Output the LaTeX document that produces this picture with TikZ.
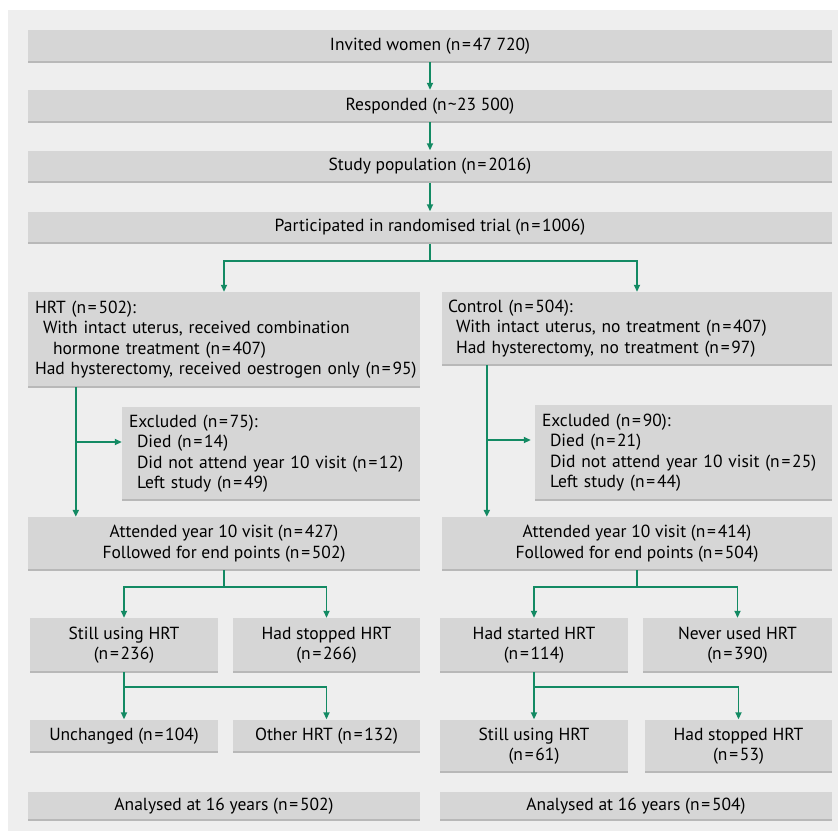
\documentclass[tikz,border=0pt]{standalone}
\usepackage{fontspec}
\setmainfont{PT Sans}
\usetikzlibrary{arrows.meta,calc}
\definecolor{panel}{HTML}{EEEEEE}
\definecolor{boxfill}{HTML}{D6D6D6}
\definecolor{boxedge}{HTML}{B8B8B8}
\definecolor{arrgreen}{HTML}{138A63}
\newcommand{\nn}[1]{(n\kern1.8pt=\kern1.8pt#1)}
\tikzset{
  box/.style={fill=boxfill, inner sep=0pt, inner xsep=7pt, font=\fontsize{17.5}{20.5}\selectfont,
    path picture={\draw[boxedge, line width=2.5pt] (path picture bounding box.south west) -- (path picture bounding box.south east);}},
  cbox/.style={box, align=center},
  lbox/.style={box, align=left},
  conn/.style={draw=arrgreen, line width=1.8pt},
  arr/.style={conn, -{Triangle[width=6pt,length=7pt]}},
}
\begin{document}
\begin{tikzpicture}[x=1pt,y=-1pt]
\useasboundingbox (0,0) rectangle (838,831);
\fill[white] (0,0) rectangle (838,831);
\fill[panel] (8,10) rectangle (838,831);

% top chain
\node[cbox, minimum width=804, minimum height=32] (inv) at (430,46) {Invited women \nn{47 720}};
\node[cbox, minimum width=804, minimum height=32] (resp) at (430,106) {Responded (n\kern1pt\textasciitilde\kern0.5pt23 500)};
\node[cbox, minimum width=804, minimum height=32] (study) at (430,166.5) {Study population \nn{2016}};
\node[cbox, minimum width=804, minimum height=32] (part) at (430,227.5) {Participated in randomised trial \nn{1006}};

% arms
\node[lbox, minimum width=392, minimum height=95, text width=378] (hrt) at (224,339.5)
  {HRT \nn{502}:\\
   \hspace*{8pt}With intact uterus, received combination\\
   \hspace*{18pt}hormone treatment \nn{407}\\
   \mbox{Had hysterectomy, received oestrogen only \nn{95}}};
\node[lbox, minimum width=390, minimum height=73, text width=378, inner xsep=6pt] (ctl) at (637,328.5)
  {Control \nn{504}:\\
   \hspace*{8pt}With intact uterus, no treatment \nn{407}\\
   \hspace*{8pt}Had hysterectomy, no treatment \nn{97}};

% excluded
\node[lbox, minimum width=298, minimum height=93, text width=284] (exc1) at (271,453.5)
  {Excluded \nn{75}:\\
   \hspace*{8pt}Died \nn{14}\\
   \hspace*{8pt}\mbox{Did not attend year 10 visit \nn{12}}\\
   \hspace*{8pt}Left study \nn{49}};
\node[lbox, minimum width=297, minimum height=95, text width=283] (exc2) at (683.5,452.5)
  {Excluded \nn{90}:\\
   \hspace*{8pt}Died \nn{21}\\
   \hspace*{8pt}\mbox{Did not attend year 10 visit \nn{25}}\\
   \hspace*{8pt}Left study \nn{44}};

% attended
\node[cbox, minimum width=392, minimum height=53] (att1) at (224,543.5)
  {Attended year 10 visit \nn{427}\\Followed for end points \nn{502}};
\node[cbox, minimum width=390, minimum height=53] (att2) at (637,543.5)
  {Attended year 10 visit \nn{414}\\Followed for end points \nn{504}};

% second level
\node[cbox, minimum width=188, minimum height=54] (still1) at (124,645) {Still using HRT\\\nn{236}};
\node[cbox, minimum width=187, minimum height=54] (stop1) at (326.5,645) {Had stopped HRT\\\nn{266}};
\node[cbox, minimum width=188, minimum height=54] (start2) at (534,645) {Had started HRT\\\nn{114}};
\node[cbox, minimum width=189, minimum height=54] (never2) at (737.5,645) {Never used HRT\\\nn{390}};

% third level
\node[cbox, minimum width=188, minimum height=33] (unch) at (124,736) {Unchanged \nn{104}};
\node[cbox, minimum width=187, minimum height=33] (other) at (326.5,736) {Other HRT \nn{132}};
\node[cbox, minimum width=188, minimum height=53] (still2) at (534,746) {Still using HRT\\\nn{61}};
\node[cbox, minimum width=187, minimum height=53] (stop2) at (738.5,746) {Had stopped HRT\\\nn{53}};

% analysed
\node[cbox, minimum width=392, minimum height=29] (an1) at (224,806) {Analysed at 16 years \nn{502}};
\node[cbox, minimum width=392, minimum height=29] (an2) at (636,806) {Analysed at 16 years \nn{504}};

% connectors top chain
\draw[arr] (inv.south) -- (resp.north);
\draw[arr] (resp.south) -- (study.north);
\draw[arr] (study.south) -- (part.north);

\draw[conn] (part.south) -- ++(0,17) coordinate (s1);
\draw[arr] (s1) -| (hrt.north);
\draw[arr] (s1) -| (ctl.north);

% left column trunk
\coordinate (v1) at ([xshift=48pt]hrt.south west);
\draw[arr] (v1) -- (v1 |- att1.north);
\draw[arr] (v1 |- 0,442) -- (exc1.west |- 0,442);
% right column trunk
\coordinate (v2) at ([xshift=45pt]ctl.south west);
\draw[arr] (v2) -- (v2 |- att2.north);
\draw[arr] (v2 |- 0,440) -- ([xshift=-4pt]exc2.west |- 0,440);

% attended splits
\draw[conn] (att1.south) -- ++(0,17) coordinate (s2);
\draw[arr] (s2) -| (still1.north);
\draw[arr] (s2) -| (stop1.north);
\draw[conn] (att2.south) -- ++(0,17) coordinate (s4);
\draw[arr] (s4) -| (start2.north);
\draw[arr] (s4) -| (never2.north);

% third-level splits
\draw[conn] (still1.south) -- ++(0,15) coordinate (s3);
\draw[arr] (s3) -| (unch.north);
\draw[arr] (s3) -| (other.north);
\draw[conn] (start2.south) -- ++(0,15) coordinate (s5);
\draw[arr] (s5) -| (still2.north);
\draw[arr] (s5) -| (stop2.north);
\end{tikzpicture}
\end{document}
